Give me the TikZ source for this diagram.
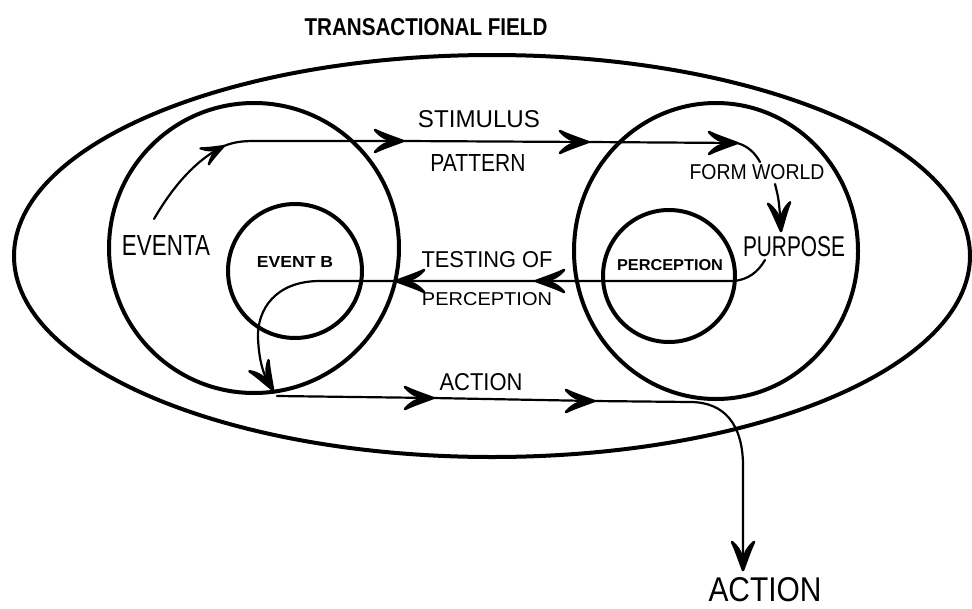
\documentclass[tikz,border=0pt]{standalone}
\usepackage{fontspec}
\usepackage{graphicx}
\setmainfont{Liberation Sans}
% label scaled to an exact width and cap height
\newcommand\fitlabel[3]{\resizebox{#1pt}{#2pt}{#3}}

\begin{document}
\begin{tikzpicture}[x=1pt,y=-1pt,
  ring/.style={line width=4pt},
  flow/.style={line width=2.2pt, line cap=round, line join=round},
  lbl/.style={inner sep=0pt, anchor=center},
  % hand-drawn barbed arrowhead, tip at the origin, pointing along +x
  pics/hbarb/.style={code={
    \filldraw[line width=2.6pt, line join=round]
      (0,0) .. controls (-9,-3.5) and (-20,-7) .. (-28,-11)
      .. controls (-22,-4) and (-15,-1) .. (-9,0)
      .. controls (-15,1) and (-22,4) .. (-28,11)
      .. controls (-20,7) and (-9,3.5) .. (0,0) -- cycle;
  }},
  pics/sbarb/.style={code={
    \filldraw[line width=2.2pt, line join=round]
      (0,0) .. controls (-7,-2.5) and (-15,-5.5) .. (-22,-9)
      .. controls (-17,-3.5) and (-12,-1) .. (-7,0)
      .. controls (-12,1) and (-17,3.5) .. (-22,9)
      .. controls (-15,5.5) and (-7,2.5) .. (0,0) -- cycle;
  }}]
\useasboundingbox (0,0) rectangle (972,608);

% transactional field and the two worlds
\draw[ring] (492,256) ellipse [x radius=478, y radius=201];
\draw[ring] (254,248) circle [radius=145];
\draw[ring] (295,271) circle [radius=67];
\draw[ring] (716,251) ellipse [x radius=142, y radius=148];
\draw[ring] (669,276) circle [radius=66];

% labels
\node[lbl] (title) at (426,27) {\fitlabel{243}{17}{\bfseries TRANSACTIONAL FIELD}};
\node[lbl] (stim) at (479,119) {\fitlabel{122}{17}{STIMULUS}};
\node[lbl] (patt) at (478,163) {\fitlabel{95}{17}{PATTERN}};
\node[lbl] (form) at (757,172) {\fitlabel{135}{15}{FORM WORLD}};
\node[lbl] (purp) at (794,247) {\fitlabel{102}{20}{PURPOSE}};
\node[lbl] (evA) at (166,245) {\fitlabel{88}{20}{EVENTA}};
\node[lbl] (evB) at (295,262) {\fitlabel{76}{11}{\bfseries EVENT B}};
\node[lbl] (perc) at (670,265) {\fitlabel{106}{11}{\bfseries PERCEPTION}};
\node[lbl] (test1) at (487,260) {\fitlabel{131}{16}{TESTING OF}};
\node[lbl] (test2) at (487,299) {\fitlabel{130}{13}{PERCEPTION}};
\node[lbl] (act) at (481,382) {\fitlabel{83}{17}{ACTION}};
\node[lbl] (actout) at (765,590) {\fitlabel{113}{24}{ACTION}};

% path points
\coordinate (s0) at (154,219);
\coordinate (s1) at (224,146);
\coordinate (s2) at (255,141);
\coordinate (s3) at (403,141);
\coordinate (s4) at (588,142);
\coordinate (s5) at (737,143);
\coordinate (s6) at (760,162);
\coordinate (f0) at (775,184);
\coordinate (f1) at (781,231);
\coordinate (p0) at (765,260);
\coordinate (p1) at (733,281);
\coordinate (p2) at (536,281);
\coordinate (p3) at (396,281);
\coordinate (p4) at (320,281);
\coordinate (p5) at (258,338);
\coordinate (p6) at (273,390);
\coordinate (a0) at (277,396);
\coordinate (a1) at (433,398);
\coordinate (a2) at (594,401);
\coordinate (a3) at (690,402);
\coordinate (a4) at (743,463);
\coordinate (a5) at (743,570);

% stimulus pattern
\draw[flow] (s0) .. controls (172,188) and (195,160) .. (s1)
  .. controls (234,142) and (242,141) .. (s2) -- (s3) -- (s4) -- (s5)
  .. controls (748,146) and (755,153) .. (s6);
\pic[rotate=28] at (s1) {sbarb};
\pic at (s3) {hbarb};
\pic at (s4) {hbarb};
\pic at (s5) {hbarb};

% form world to purpose
\draw[flow] (f0) .. controls (779,200) .. (f1);
\pic[rotate=-86] at (f1) {hbarb};

% testing of perception
\draw[flow] (p0) .. controls (758,272) and (748,280) .. (p1) -- (p2) -- (p3) -- (p4)
  .. controls (275,281) and (257,310) .. (p5)
  .. controls (259,362) and (264,378) .. (p6);
\pic[rotate=180] at (p2) {hbarb};
\pic[rotate=180] at (p3) {hbarb};
\pic[rotate=-60] at (p6) {hbarb};

% action
\draw[flow] (a0) -- (a1) -- (a2) -- (a3)
  .. controls (725,402) and (742,425) .. (a4) -- (a5);
\pic at (a1) {hbarb};
\pic at (a2) {hbarb};
\pic[rotate=-90] at (a5) {hbarb};
\end{tikzpicture}
\end{document}
